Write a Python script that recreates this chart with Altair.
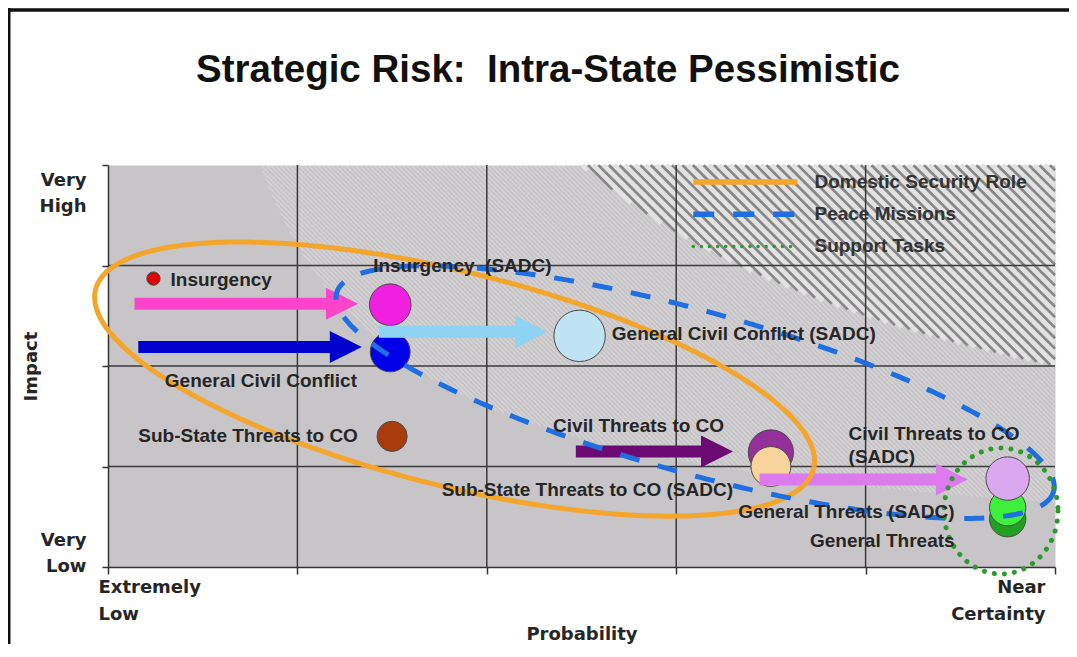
import numpy as np
import pandas as pd
import altair as alt

# ---------------- plot geometry (scales) ----------------
W, H = 947, 402
XMAX, YMAX = 5, 4
XS, YS = W / XMAX, H / YMAX

TITLE = "Strategic Risk:\u00a0 Intra-State Pessimistic"

# ---------------- risks: probability (0-5) / impact (0-4) ----------------
risk_names = ["Insurgency", "Insurgency (SADC)", "General Civil Conflict",
              "General Civil Conflict (SADC)", "Sub-State Threats to CO",
              "Civil Threats to CO", "Sub-State Threats to CO (SADC)",
              "General Threats", "General Threats (SADC)", "Civil Threats to CO (SADC)"]
risk_prob = [0.24, 1.49, 1.49, 2.49, 1.50, 3.50, 3.50, 4.75, 4.75, 4.75]
risk_impact = [2.87, 2.61, 2.14, 2.30, 1.30, 1.14, 1.00, 0.48, 0.59, 0.88]
risk_weight = [15, 47, 45, 58, 34, 51, 45, 41, 41, 49]
risk_colors = ["#e00000", "#f020e0", "#0000e8", "#bfe3f3", "#a83c0c",
               "#93309a", "#f8d49c", "#22a022", "#3cf03c", "#d9a8ee"]

# ---------------- labels ----------------
label_text = ["Insurgency", "Insurgency\u00a0 (SADC)", "General Civil Conflict",
              "General Civil Conflict (SADC)", "Sub-State Threats to CO",
              "Civil Threats to CO", "Sub-State Threats to CO (SADC)",
              "Civil Threats to CO\n(SADC)", "General Threats (SADC)", "General Threats"]
label_prob = [0.33, 1.40, 0.30, 2.66, 0.16, 2.35, 3.30, 3.91, 4.47, 4.47]
label_impact = [2.86, 3.00, 1.85, 2.32, 1.30, 1.40, 0.77, 1.32, 0.55, 0.26]
label_side = ["left", "left", "left", "left", "left", "left", "right", "left", "right", "right"]

# ---------------- shifts (arrows) ----------------
arrow_id = ["a1", "a2", "a3", "a4", "a5"]
arrow_from = [0.14, 0.16, 1.43, 2.47, 3.44]
arrow_to = [1.32, 1.34, 2.32, 3.30, 4.54]
arrow_impact = [2.62, 2.19, 2.34, 1.15, 0.87]
arrow_colors = ["#ff44cc", "#0000cc", "#8fd3f2", "#6a0a72", "#dd7aee"]

# ---------------- roles (ellipses) ----------------
role_names = ["Domestic Security Role", "Peace Missions", "Support Tasks"]
role_cx = [1.83, 3.10, 4.715]
role_cy = [1.87, 1.74, 0.557]
role_a = [370, 372, 57]      # semi-axes, px
role_b = [107, 81, 63]
role_rot = [14, 15.5, 0]     # degrees
role_colors = ["#f4a52c", "#1f6fe2", "#2e9a2e"]

# legend placement (data units, top-right)
legend_x0, legend_x1, legend_tx = 3.09, 3.64, 3.73
legend_y = [3.83, 3.51, 3.19]

grid_x = [1, 2, 3, 4]
grid_y = [1, 2, 3]

# ---------------- derived tables ----------------
risks = pd.DataFrame({"name": risk_names, "prob": risk_prob, "impact": risk_impact,
                      "size": [np.pi * (d / 2) ** 2 for d in risk_weight],
                      "idx": list(range(len(risk_names)))})
labels = pd.DataFrame({"text": label_text, "prob": label_prob, "impact": label_impact,
                       "side": label_side})
arrows = pd.DataFrame({"id": arrow_id, "x0": arrow_from, "x1": arrow_to, "y": arrow_impact})


def ellipse(k):
    t = np.linspace(0, 2 * np.pi, 361)
    phi = np.radians(role_rot[k])
    a, b = role_a[k], role_b[k]
    du = a * np.cos(t) * np.cos(phi) - b * np.sin(t) * np.sin(phi)
    dv = a * np.cos(t) * np.sin(phi) + b * np.sin(t) * np.cos(phi)
    return pd.DataFrame({"x": role_cx[k] + du / XS, "y": role_cy[k] - dv / YS,
                         "i": np.arange(len(t))})


def hatch(spacing, offset, k):
    """diagonal hatch segments (45deg on screen) where prob*impact > k"""
    u = np.linspace(0, W, 3000)
    rows = []
    for c in np.arange(-W + offset, H, spacing):
        v = u + c
        x = u / XS
        y = (H - v) / YS
        ok = (v >= 0) & (v <= H) & (x * y > k)
        idx = np.where(ok)[0]
        if len(idx) < 2:
            continue
        u0, u1 = u[idx[0]], u[idx[-1]]
        rows.append((u0 / XS, (H - (u0 + c)) / YS, u1 / XS, (H - (u1 + c)) / YS))
    return pd.DataFrame(rows, columns=["x", "y", "x2", "y2"])


fine = hatch(4.7, 0, 3.2)
coarse_light = hatch(10.5, 0, 10.0)
coarse_dark = hatch(10.5, 5.2, 10.0)

xscale = alt.Scale(domain=[0, XMAX], nice=False, zero=False)
yscale = alt.Scale(domain=[0, YMAX], nice=False, zero=False)

AXFONT = dict(labelFont="DejaVu Sans", labelFontWeight="bold", labelFontSize=18,
              labelColor="#262626", titleFont="DejaVu Sans", titleFontWeight="bold",
              titleFontSize=18, titleColor="#262626", domainColor="#333333",
              domainWidth=1.5, tickColor="#333333", tickWidth=1.5, grid=False,
              labelOverlap=False)

x_axis = alt.Axis(values=[0, 1, 2, 3, 4, 5], tickSize=7, labelPadding=4,
                  labelExpr="datum.value == 0 ? ['Extremely', 'Low'] : datum.value == 5 ? ['Near', 'Certainty'] : ''",
                  labelFlush=True, labelOffset=-10, labelLineHeight=27,
                  title="Probability", titleX=W / 2, titleY=72, titleBaseline="alphabetic",
                  titleAlign="center", **AXFONT)
y_axis = alt.Axis(values=[0, 1, 2, 3, 4], tickSize=6, labelPadding=16,
                  labelExpr="datum.value == 0 ? ['Very', 'Low'] : datum.value == 4 ? ['Very', 'High'] : ''",
                  labelBaseline="alphabetic",
                  labelOffset={"condition": {"test": "datum.value == 0", "value": -22}, "value": 20},
                  labelLineHeight=26, labelAlign="right",
                  title="Impact", titleX=-77, titleY=H / 2, titleAngle=270,
                  titleBaseline="middle", titleAlign="center", **AXFONT)


def X(f):
    return alt.X(f, type="quantitative", scale=xscale, axis=x_axis, title="Probability")


def Y(f):
    return alt.Y(f, type="quantitative", scale=yscale, axis=y_axis, title="Impact")


# hatch layers
l_fine = alt.Chart(fine).mark_rule(color="#e2e2e2", strokeWidth=1.2, opacity=0.55).encode(
    x=X("x"), y=Y("y"), x2="x2:Q", y2="y2:Q")
l_cl = alt.Chart(coarse_light).mark_rule(color="#e2e2e2", strokeWidth=5.0).encode(
    x=X("x"), y=Y("y"), x2="x2:Q", y2="y2:Q")
l_cd = alt.Chart(coarse_dark).mark_rule(color="#878787", strokeWidth=2.6).encode(
    x=X("x"), y=Y("y"), x2="x2:Q", y2="y2:Q")

# grid
l_gx = alt.Chart(pd.DataFrame({"g": grid_x})).mark_rule(color="#3a3a3a", strokeWidth=1.5).encode(x=X("g"))
l_gy = alt.Chart(pd.DataFrame({"g": grid_y})).mark_rule(color="#3a3a3a", strokeWidth=1.5).encode(y=Y("g"))

# bubbles
l_risk = alt.Chart(risks).mark_point(filled=True, shape="circle", opacity=1,
                                     stroke="#4a4a4a", strokeWidth=1).encode(
    x=X("prob"), y=Y("impact"),
    size=alt.Size("size:Q", scale=None),
    fill=alt.Fill("name:N", scale=alt.Scale(domain=risk_names, range=risk_colors), legend=None),
    order=alt.Order("idx:Q"))

# arrows
acolor = alt.Color("id:N", scale=alt.Scale(domain=arrow_id, range=arrow_colors), legend=None)
l_shaft = alt.Chart(arrows).mark_rule(strokeWidth=12, x2Offset=-24).encode(
    x=X("x0"), x2="x1:Q", y=Y("y"), color=acolor)
l_head = alt.Chart(arrows).mark_point(shape="M-2,-1L0,0L-2,1Z", filled=True, size=1024,
                                      opacity=1).encode(x=X("x1"), y=Y("y"), color=acolor)

# role ellipses
l_orange = alt.Chart(ellipse(0)).mark_line(color=role_colors[0], strokeWidth=5).encode(
    x=X("x"), y=Y("y"), order="i:Q")
l_blue = alt.Chart(ellipse(1)).mark_line(color=role_colors[1], strokeWidth=5,
                                         strokeDash=[20, 19]).encode(
    x=X("x"), y=Y("y"), order="i:Q")
l_green = alt.Chart(ellipse(2)).mark_line(color=role_colors[2], strokeWidth=5,
                                          strokeDash=[0.1, 10], strokeCap="round").encode(
    x=X("x"), y=Y("y"), order="i:Q")

# legend
leg = pd.DataFrame({"name": role_names, "y": legend_y, "x0": legend_x0, "x1": legend_x1,
                    "tx": legend_tx})
l_leg1 = alt.Chart(leg[leg.name == role_names[0]]).mark_rule(
    color=role_colors[0], strokeWidth=5.5).encode(x=X("x0"), x2="x1:Q", y=Y("y"))
l_leg2 = alt.Chart(leg[leg.name == role_names[1]]).mark_rule(
    color=role_colors[1], strokeWidth=5.5, strokeDash=[21, 19]).encode(x=X("x0"), x2="x1:Q", y=Y("y"))
l_leg3 = alt.Chart(leg[leg.name == role_names[2]]).mark_rule(
    color=role_colors[2], strokeWidth=3.5, strokeDash=[0.1, 8], strokeCap="round").encode(
    x=X("x0"), x2="x1:Q", y=Y("y"))
l_legt = alt.Chart(leg).mark_text(align="left", baseline="middle", font="Liberation Sans",
                                  fontWeight="bold", fontSize=19, color="#333333").encode(
    x=X("tx"), y=Y("y"), text="name:N")

# labels
TXT = dict(baseline="middle", font="Liberation Sans", fontWeight="bold", fontSize=19,
           color="#262626", lineBreak="\n", lineHeight=23)
l_lab_l = alt.Chart(labels[labels.side == "left"]).mark_text(align="left", **TXT).encode(
    x=X("prob"), y=Y("impact"), text="text:N")
l_lab_r = alt.Chart(labels[labels.side == "right"]).mark_text(align="right", **TXT).encode(
    x=X("prob"), y=Y("impact"), text="text:N")

# title and frame
l_title = alt.Chart(pd.DataFrame({"t": [TITLE]})).mark_text(
    align="center", baseline="alphabetic", font="Liberation Sans", fontWeight="bold",
    fontSize=38.5, color="#111111").encode(x=alt.value(440), y=alt.value(-83), text="t:N")
frame = pd.DataFrame({"k": [0]})
l_ftop = alt.Chart(frame).mark_rule(color="#111111", strokeWidth=3.5).encode(
    x=alt.value(-100), x2=alt.value(W + 14), y=alt.value(-155))
l_fleft = alt.Chart(frame).mark_rule(color="#111111", strokeWidth=3).encode(
    x=alt.value(-99), y=alt.value(-157), y2=alt.value(H + 77))

chart = alt.layer(
    l_fine, l_cl, l_cd, l_gx, l_gy, l_risk, l_shaft, l_head,
    l_orange, l_blue, l_green, l_leg1, l_leg2, l_leg3, l_legt,
    l_lab_l, l_lab_r, l_title, l_ftop, l_fleft
).properties(
    width=W, height=H,
    autosize=alt.AutoSizeParams(type="none"),
    padding={"left": 100, "top": 157, "right": 14, "bottom": 77},
).configure_view(fill="#c8c5c8", stroke="transparent")

chart.save("out.html", embed_options={"renderer": "svg", "actions": False})
